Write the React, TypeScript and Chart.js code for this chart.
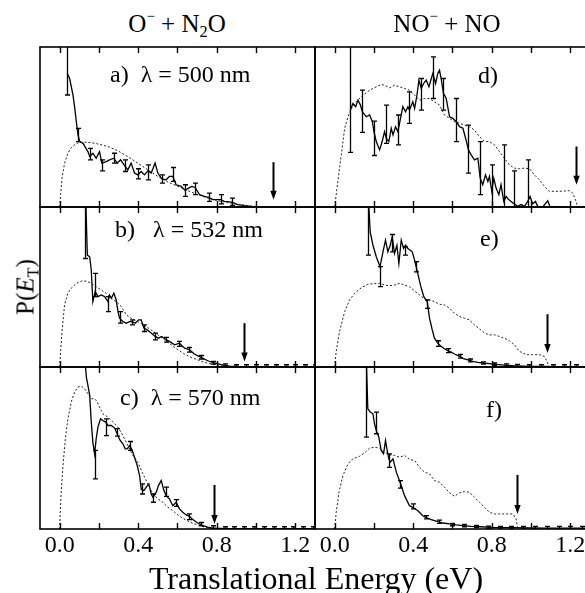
import React, { useEffect, useRef } from "react";
import { Chart, registerables } from "chart.js";
Chart.register(...registerables);

type Pt = [number, number];
type Err = [number, number, number];
type Arrow = [number, number, number];

const X_MIN = -0.1;
const X_MAX = 1.3;
const MINOR_TICKS = [0, 0.2, 0.4, 0.6, 0.8, 1.0, 1.2];
const TICK_LABELS = [0, 0.4, 0.8, 1.2];

// ---------- panel a: O- + N2O, 500 nm ----------
const aSolid: Pt[] = [
  [0.039, 0.834], [0.051, 0.803], [0.068, 0.699], [0.076, 0.627], [0.085, 0.533], [0.093, 0.454],
  [0.102, 0.409], [0.119, 0.398], [0.144, 0.346], [0.153, 0.315], [0.169, 0.336], [0.186, 0.305],
  [0.203, 0.346], [0.215, 0.274], [0.237, 0.284], [0.254, 0.295], [0.276, 0.305], [0.293, 0.274],
  [0.31, 0.295], [0.331, 0.259], [0.347, 0.232], [0.364, 0.274], [0.381, 0.212], [0.398, 0.201],
  [0.415, 0.222], [0.432, 0.201], [0.449, 0.226], [0.466, 0.212], [0.486, 0.274], [0.5, 0.212],
  [0.52, 0.176], [0.542, 0.17], [0.559, 0.191], [0.576, 0.191], [0.593, 0.139], [0.619, 0.129],
  [0.639, 0.104], [0.656, 0.118], [0.673, 0.129], [0.69, 0.122], [0.712, 0.077], [0.737, 0.066],
  [0.758, 0.06], [0.78, 0.046], [0.819, 0.046], [0.839, 0.035], [0.876, 0.031], [0.907, 0.015],
  [0.941, 0.008], [0.975, 0.004], [1.0, 0.002],
];
const aDashed: Pt[] = [
  [0, 0], [0.005, 0.077], [0.012, 0.18], [0.025, 0.274], [0.042, 0.336], [0.059, 0.371], [0.08, 0.392],
  [0.102, 0.405], [0.127, 0.405], [0.161, 0.402], [0.203, 0.392], [0.246, 0.378], [0.297, 0.351],
  [0.347, 0.315], [0.398, 0.274], [0.449, 0.232], [0.5, 0.191], [0.551, 0.156], [0.602, 0.129],
  [0.653, 0.102], [0.703, 0.077], [0.754, 0.056], [0.805, 0.039], [0.856, 0.027], [0.907, 0.017],
  [0.975, 0.006], [1.059, 0],
];
const aErr: Err[] = [
  [0.039, 0.7, 1.15], [0.093, 0.409, 0.492], [0.153, 0.295, 0.367], [0.215, 0.226, 0.295],
  [0.276, 0.274, 0.336], [0.331, 0.222, 0.295], [0.398, 0.176, 0.239], [0.449, 0.17, 0.263],
  [0.52, 0.149, 0.201], [0.576, 0.16, 0.247], [0.639, 0.066, 0.139], [0.69, 0.077, 0.149],
  [0.758, 0.035, 0.087], [0.819, 0.019, 0.077], [0.876, 0.01, 0.056],
];
const aArrow: Arrow = [1.085, 0.28, 0.046];

// ---------- panel b: O- + N2O, 532 nm ----------
const bSolid: Pt[] = [
  [0.127, 1.3], [0.141, 0.699], [0.153, 0.689], [0.161, 0.606], [0.169, 0.409], [0.181, 0.471],
  [0.195, 0.44], [0.212, 0.45], [0.229, 0.44], [0.246, 0.409], [0.254, 0.45], [0.263, 0.429],
  [0.276, 0.461], [0.288, 0.419], [0.297, 0.346], [0.305, 0.305], [0.322, 0.284], [0.339, 0.274],
  [0.356, 0.284], [0.368, 0.284], [0.385, 0.274], [0.402, 0.295], [0.415, 0.295], [0.429, 0.243],
  [0.446, 0.232], [0.466, 0.212], [0.486, 0.191], [0.503, 0.18], [0.52, 0.191], [0.542, 0.17],
  [0.559, 0.16], [0.585, 0.139], [0.61, 0.149], [0.636, 0.118], [0.661, 0.108], [0.686, 0.081],
  [0.72, 0.06], [0.754, 0.039], [0.788, 0.025], [0.822, 0.015], [0.864, 0.006], [0.907, 0.003],
  [0.949, 0.002], [1.0, 0.002], [1.1, 0.002], [1.2, 0.002], [1.3, 0.002],
];
const bDashed: Pt[] = [
  [0, 0], [0.005, 0.098], [0.012, 0.222], [0.025, 0.388], [0.042, 0.461], [0.059, 0.492], [0.085, 0.523],
  [0.11, 0.537], [0.136, 0.537], [0.161, 0.523], [0.186, 0.502], [0.212, 0.481], [0.237, 0.461],
  [0.263, 0.429], [0.288, 0.409], [0.314, 0.378], [0.339, 0.326], [0.364, 0.305], [0.398, 0.284],
  [0.432, 0.259], [0.466, 0.232], [0.5, 0.201], [0.534, 0.17], [0.568, 0.139], [0.602, 0.108],
  [0.636, 0.081], [0.669, 0.06], [0.703, 0.044], [0.737, 0.029], [0.771, 0.019], [0.822, 0.008],
  [0.873, 0.002], [0.924, 0],
];
const bErr: Err[] = [
  [0.127, 0.678, 1.3], [0.181, 0.44, 0.585], [0.246, 0.346, 0.44], [0.305, 0.274, 0.346],
  [0.368, 0.263, 0.295], [0.429, 0.222, 0.263], [0.486, 0.17, 0.212], [0.542, 0.155, 0.185],
  [0.61, 0.129, 0.16], [0.661, 0.093, 0.122], [0.72, 0.05, 0.072], [0.78, 0.018, 0.035],
  [0.84, 0.005, 0.02], [0.9, 0, 0.014], [0.95, 0, 0.014], [1.0, 0, 0.014], [1.05, 0, 0.014],
  [1.1, 0, 0.014], [1.15, 0, 0.014], [1.2, 0, 0.014], [1.25, 0, 0.014], [1.3, 0, 0.014],
];
const bArrow: Arrow = [0.936, 0.274, 0.035];

// ---------- panel c: O- + N2O, 570 nm ----------
const cSolid: Pt[] = [
  [0.127, 1.07], [0.136, 0.938], [0.144, 0.887], [0.153, 0.825], [0.161, 0.66], [0.169, 0.536],
  [0.178, 0.464], [0.186, 0.557], [0.195, 0.629], [0.208, 0.68], [0.22, 0.67], [0.234, 0.66],
  [0.246, 0.639], [0.263, 0.639], [0.28, 0.623], [0.293, 0.588], [0.305, 0.553], [0.322, 0.526],
  [0.334, 0.495], [0.344, 0.495], [0.356, 0.515], [0.368, 0.491], [0.381, 0.443], [0.395, 0.392],
  [0.407, 0.33], [0.415, 0.247], [0.429, 0.237], [0.441, 0.258], [0.454, 0.278], [0.466, 0.216],
  [0.475, 0.196], [0.492, 0.227], [0.503, 0.268], [0.517, 0.299], [0.531, 0.237], [0.542, 0.206],
  [0.559, 0.186], [0.576, 0.144], [0.593, 0.165], [0.61, 0.124], [0.627, 0.103], [0.644, 0.087],
  [0.661, 0.078], [0.678, 0.058], [0.703, 0.037], [0.729, 0.021], [0.754, 0.012], [0.78, 0.006],
  [0.814, 0.004], [0.864, 0.002], [1.0, 0.002], [1.3, 0.002],
];
const cDashed: Pt[] = [
  [0, 0], [0.003, 0.103], [0.008, 0.227], [0.017, 0.392], [0.029, 0.557], [0.042, 0.68], [0.059, 0.784],
  [0.076, 0.845], [0.093, 0.876], [0.11, 0.882], [0.127, 0.866], [0.144, 0.835], [0.161, 0.804],
  [0.178, 0.804], [0.192, 0.784], [0.203, 0.753], [0.22, 0.711], [0.246, 0.691], [0.271, 0.66],
  [0.297, 0.629], [0.322, 0.577], [0.347, 0.515], [0.373, 0.454], [0.398, 0.412], [0.424, 0.34],
  [0.449, 0.278], [0.475, 0.216], [0.5, 0.186], [0.525, 0.165], [0.551, 0.134], [0.576, 0.113],
  [0.602, 0.087], [0.627, 0.066], [0.653, 0.049], [0.678, 0.035], [0.703, 0.025], [0.737, 0.012],
  [0.771, 0.004], [0.797, 0],
];
const cErr: Err[] = [
  [0.178, 0.309, 0.485], [0.234, 0.577, 0.68], [0.293, 0.573, 0.619], [0.356, 0.485, 0.54],
  [0.419, 0.216, 0.278], [0.475, 0.165, 0.216], [0.542, 0.202, 0.258], [0.593, 0.14, 0.181],
  [0.661, 0.058, 0.093], [0.72, 0.02, 0.04], [0.78, 0.003, 0.02], [0.84, 0, 0.014], [0.89, 0, 0.014],
  [0.94, 0, 0.014], [0.99, 0, 0.014], [1.04, 0, 0.014], [1.09, 0, 0.014], [1.14, 0, 0.014],
  [1.19, 0, 0.014], [1.24, 0, 0.014], [1.29, 0, 0.014],
];
const cArrow: Arrow = [0.788, 0.272, 0.031];

// ---------- panel d: NO- + NO, 500 nm ----------
const dSolid: Pt[] = [
  [0.08, 0.606], [0.093, 0.647], [0.107, 0.627], [0.119, 0.668], [0.131, 0.637], [0.141, 0.595],
  [0.161, 0.564], [0.178, 0.575], [0.192, 0.533], [0.2, 0.471], [0.212, 0.409], [0.229, 0.357],
  [0.242, 0.409], [0.254, 0.471], [0.263, 0.429], [0.276, 0.409], [0.288, 0.492], [0.297, 0.45],
  [0.31, 0.502], [0.322, 0.471], [0.334, 0.544], [0.347, 0.627], [0.361, 0.595], [0.373, 0.627],
  [0.381, 0.606], [0.398, 0.658], [0.407, 0.616], [0.419, 0.699], [0.429, 0.793], [0.441, 0.741],
  [0.453, 0.772], [0.466, 0.793], [0.48, 0.751], [0.492, 0.803], [0.5, 0.834], [0.514, 0.772],
  [0.525, 0.834], [0.534, 0.855], [0.542, 0.803], [0.554, 0.71], [0.568, 0.678], [0.585, 0.564],
  [0.602, 0.554], [0.619, 0.533], [0.636, 0.502], [0.653, 0.492], [0.669, 0.419], [0.681, 0.357],
  [0.695, 0.326], [0.712, 0.295], [0.729, 0.305], [0.741, 0.18], [0.754, 0.139], [0.768, 0.201],
  [0.78, 0.16], [0.788, 0.191], [0.8, 0.098], [0.81, 0.18], [0.822, 0.118], [0.836, 0.077],
  [0.847, 0.139], [0.861, 0.035], [0.873, 0.066], [0.886, 0.046], [0.898, 0.035], [0.915, 0.019],
  [0.932, 0.004], [0.949, 0.015], [0.966, 0.004], [0.983, 0.035], [0.995, 0.066], [1.008, 0.019],
  [1.022, 0.035], [1.034, 0.004], [1.059, 0], [1.085, 0.039], [1.097, 0], [1.144, 0],
];
const dDashed: Pt[] = [
  [0, 0], [0.012, 0.118], [0.034, 0.326], [0.051, 0.492], [0.068, 0.564], [0.085, 0.616], [0.11, 0.658],
  [0.144, 0.699], [0.178, 0.73], [0.212, 0.751], [0.237, 0.766], [0.254, 0.761], [0.28, 0.745],
  [0.305, 0.761], [0.331, 0.751], [0.356, 0.741], [0.381, 0.73], [0.407, 0.699], [0.432, 0.668],
  [0.458, 0.678], [0.483, 0.678], [0.508, 0.658], [0.534, 0.637], [0.559, 0.575], [0.585, 0.554],
  [0.61, 0.533], [0.636, 0.523], [0.661, 0.512], [0.686, 0.502], [0.712, 0.481], [0.737, 0.44],
  [0.763, 0.409], [0.788, 0.409], [0.814, 0.388], [0.839, 0.346], [0.864, 0.305], [0.89, 0.263],
  [0.915, 0.243], [0.941, 0.239], [0.966, 0.243], [0.992, 0.239], [1.017, 0.201], [1.042, 0.17],
  [1.068, 0.129], [1.093, 0.098], [1.144, 0.098], [1.195, 0.102], [1.212, 0.087], [1.229, 0.035],
  [1.237, 0],
];
const dErr: Err[] = [
  [0.08, 0.342, 1.05], [0.141, 0.467, 0.73], [0.2, 0.322, 0.537], [0.263, 0.398, 0.637],
  [0.322, 0.388, 0.575], [0.381, 0.523, 0.72], [0.441, 0.606, 0.803], [0.5, 0.678, 0.938],
  [0.554, 0.606, 0.803], [0.619, 0.409, 0.678], [0.681, 0.212, 0.512], [0.741, 0.077, 0.409],
  [0.8, 0, 0.263], [0.861, 0, 0.388], [0.915, 0, 0.226], [0.983, 0, 0.295],
];
const dArrow: Arrow = [1.229, 0.378, 0.139];

// ---------- panel e: NO- + NO, 532 nm ----------
const eSolid: Pt[] = [
  [0.17, 1.1], [0.181, 0.844], [0.195, 0.761], [0.212, 0.689], [0.231, 0.627], [0.246, 0.72],
  [0.259, 0.793], [0.271, 0.72], [0.283, 0.761], [0.293, 0.813], [0.305, 0.71], [0.317, 0.761],
  [0.327, 0.647], [0.339, 0.793], [0.351, 0.741], [0.361, 0.761], [0.373, 0.741], [0.385, 0.73],
  [0.395, 0.72], [0.407, 0.668], [0.415, 0.627], [0.429, 0.554], [0.441, 0.492], [0.454, 0.44],
  [0.471, 0.409], [0.483, 0.305], [0.497, 0.232], [0.508, 0.18], [0.525, 0.149], [0.542, 0.129],
  [0.559, 0.114], [0.576, 0.102], [0.593, 0.093], [0.61, 0.081], [0.636, 0.066], [0.656, 0.052],
  [0.678, 0.044], [0.703, 0.035], [0.729, 0.029], [0.754, 0.025], [0.788, 0.021], [0.822, 0.017],
  [0.864, 0.012], [0.907, 0.008], [0.958, 0.006], [1.008, 0.004], [1.076, 0.004], [1.144, 0.002],
  [1.212, 0.002], [1.3, 0.002],
];
const eDashed: Pt[] = [
  [0, 0], [0.008, 0.098], [0.025, 0.222], [0.051, 0.346], [0.076, 0.419], [0.102, 0.461], [0.136, 0.496],
  [0.169, 0.517], [0.203, 0.521], [0.229, 0.523], [0.254, 0.512], [0.28, 0.508], [0.305, 0.512],
  [0.331, 0.523], [0.356, 0.512], [0.381, 0.502], [0.407, 0.475], [0.432, 0.45], [0.458, 0.425],
  [0.483, 0.419], [0.508, 0.409], [0.534, 0.392], [0.559, 0.388], [0.585, 0.367], [0.61, 0.336],
  [0.636, 0.315], [0.661, 0.305], [0.686, 0.295], [0.712, 0.263], [0.737, 0.239], [0.763, 0.212],
  [0.788, 0.201], [0.814, 0.201], [0.839, 0.191], [0.864, 0.18], [0.89, 0.164], [0.915, 0.139],
  [0.941, 0.098], [0.975, 0.077], [1.008, 0.077], [1.042, 0.077], [1.068, 0.066], [1.085, 0.025],
  [1.09, 0],
];
const eErr: Err[] = [
  [0.171, 0.699, 1.1], [0.231, 0.502, 0.627], [0.293, 0.72, 0.828], [0.356, 0.699, 0.751],
  [0.415, 0.595, 0.658], [0.471, 0.367, 0.419], [0.525, 0.129, 0.164], [0.576, 0.09, 0.115],
  [0.636, 0.055, 0.078], [0.69, 0.032, 0.05], [0.754, 0.018, 0.032], [0.81, 0.01, 0.025],
  [0.87, 0.004, 0.02], [0.93, 0, 0.016], [0.99, 0, 0.014], [1.05, 0, 0.014], [1.11, 0, 0.014],
  [1.17, 0, 0.014], [1.23, 0, 0.014], [1.29, 0, 0.014],
];
const eArrow: Arrow = [1.081, 0.33, 0.087];

// ---------- panel f: NO- + NO, 570 nm ----------
const fSolid: Pt[] = [
  [0.161, 1.05], [0.169, 0.742], [0.181, 0.722], [0.195, 0.711], [0.203, 0.649], [0.212, 0.608],
  [0.225, 0.567], [0.237, 0.485], [0.249, 0.464], [0.259, 0.546], [0.266, 0.495], [0.276, 0.433],
  [0.283, 0.412], [0.297, 0.433], [0.314, 0.351], [0.334, 0.285], [0.356, 0.206], [0.381, 0.144],
  [0.398, 0.134], [0.424, 0.113], [0.449, 0.082], [0.466, 0.07], [0.492, 0.058], [0.525, 0.045],
  [0.551, 0.037], [0.585, 0.031], [0.619, 0.025], [0.653, 0.021], [0.695, 0.016], [0.737, 0.014],
  [0.805, 0.01], [0.907, 0.008], [1.076, 0.006], [1.3, 0.006],
];
const fDashed: Pt[] = [
  [0, 0], [0.008, 0.103], [0.022, 0.227], [0.042, 0.33], [0.068, 0.402], [0.093, 0.433], [0.127, 0.449],
  [0.153, 0.47], [0.178, 0.499], [0.203, 0.505], [0.229, 0.499], [0.254, 0.474], [0.28, 0.458],
  [0.305, 0.454], [0.331, 0.443], [0.356, 0.454], [0.381, 0.429], [0.407, 0.423], [0.432, 0.381],
  [0.458, 0.351], [0.483, 0.34], [0.508, 0.299], [0.534, 0.289], [0.559, 0.258], [0.585, 0.223],
  [0.61, 0.202], [0.636, 0.223], [0.661, 0.231], [0.686, 0.227], [0.712, 0.196], [0.737, 0.165],
  [0.763, 0.134], [0.788, 0.103], [0.814, 0.093], [0.839, 0.093], [0.873, 0.093], [0.907, 0.093],
  [0.924, 0.062], [0.932, 0],
];
const fErr: Err[] = [
  [0.161, 0.567, 1.1], [0.212, 0.588, 0.722], [0.276, 0.381, 0.464], [0.334, 0.252, 0.299],
  [0.398, 0.124, 0.155], [0.466, 0.062, 0.082], [0.53, 0.035, 0.055], [0.6, 0.02, 0.035],
  [0.66, 0.014, 0.028], [0.72, 0.008, 0.022], [0.78, 0.004, 0.018], [0.84, 0, 0.016],
  [0.9, 0, 0.016], [0.96, 0, 0.016], [1.02, 0, 0.016], [1.08, 0, 0.016], [1.14, 0, 0.016],
  [1.2, 0, 0.016], [1.26, 0, 0.016],
];
const fArrow: Arrow = [0.929, 0.334, 0.093];

const SERIF = '"Liberation Serif", "Times New Roman", Times, serif';

type PanelProps = {
  left: number; top: number; width: number; height: number;
  solid: Pt[]; dashed: Pt[]; errs: Err[]; arrow: Arrow; bottom: boolean;
};

const PAD = 4;
const AXIS_H = 32;

function Panel({ left, top, width, height, solid, dashed, errs, arrow, bottom }: PanelProps) {
  const ref = useRef<HTMLCanvasElement>(null);
  useEffect(() => {
    if (!ref.current) return;
    const overlay = {
      id: "overlay",
      afterDatasetsDraw(chart: any) {
        const { ctx, chartArea: ca, scales } = chart;
        const xs = scales.x;
        const ys = scales.y;
        ctx.save();
        ctx.beginPath();
        ctx.rect(ca.left, ca.top, ca.right - ca.left, ca.bottom - ca.top);
        ctx.clip();
        ctx.strokeStyle = "#000";
        ctx.lineWidth = 1.3;
        ctx.beginPath();
        for (const [x, lo, hi] of errs) {
          const px = Math.round(xs.getPixelForValue(x)) + 0.5;
          const p1 = ys.getPixelForValue(lo);
          const p2 = ys.getPixelForValue(hi);
          ctx.moveTo(px, p1); ctx.lineTo(px, p2);
          ctx.moveTo(px - 2.5, p1); ctx.lineTo(px + 2.5, p1);
          ctx.moveTo(px - 2.5, p2); ctx.lineTo(px + 2.5, p2);
        }
        ctx.stroke();
        // arrow
        const [ax, at, ab] = arrow;
        const apx = Math.round(xs.getPixelForValue(ax)) + 0.5;
        const aTop = ys.getPixelForValue(at);
        const aBot = ys.getPixelForValue(ab);
        ctx.lineWidth = 2;
        ctx.beginPath();
        ctx.moveTo(apx, aTop); ctx.lineTo(apx, aBot - 6);
        ctx.stroke();
        ctx.fillStyle = "#000";
        ctx.beginPath();
        ctx.moveTo(apx - 3.2, aBot - 9);
        ctx.lineTo(apx + 3.2, aBot - 9);
        ctx.lineTo(apx, aBot);
        ctx.closePath();
        ctx.fill();
        ctx.restore();

        // frame + inward ticks
        ctx.save();
        ctx.strokeStyle = "#000";
        ctx.lineWidth = 1.6;
        ctx.strokeRect(ca.left, ca.top, ca.right - ca.left, ca.bottom - ca.top);
        ctx.lineWidth = 1.4;
        ctx.beginPath();
        for (const t of MINOR_TICKS) {
          const px = Math.round(xs.getPixelForValue(t)) + 0.5;
          ctx.moveTo(px, ca.top); ctx.lineTo(px, ca.top + 6);
          ctx.moveTo(px, ca.bottom); ctx.lineTo(px, ca.bottom - 6);
        }
        ctx.stroke();
        ctx.restore();
      },
    };

    const chart = new Chart(ref.current, {
      type: "scatter",
      data: {
        datasets: [
          {
            data: dashed.map(([x, y]) => ({ x, y })),
            showLine: true,
            borderColor: "#222",
            borderWidth: 1,
            borderDash: [2, 2],
            pointRadius: 0,
            clip: 0,
          } as any,
          {
            data: solid.map(([x, y]) => ({ x, y })),
            showLine: true,
            borderColor: "#000",
            borderWidth: 1.3,
            pointRadius: 0,
            clip: 0,
          } as any,
        ],
      },
      options: {
        responsive: false,
        maintainAspectRatio: false,
        animation: false,
        devicePixelRatio: 1,
        events: [],
        layout: { padding: { left: PAD, right: PAD, top: PAD, bottom: bottom ? 0 : PAD } },
        plugins: { legend: { display: false }, tooltip: { enabled: false } },
        scales: {
          x: {
            type: "linear",
            min: X_MIN,
            max: X_MAX,
            display: bottom,
            grid: { display: false, drawTicks: false },
            border: { display: false },
            ticks: {
              color: "#000",
              font: { family: SERIF, size: 24 },
              padding: 2,
              autoSkip: false,
              maxRotation: 0,
              callback: (v: any) => Number(v).toFixed(1),
            },
            afterBuildTicks: (s: any) => {
              s.ticks = TICK_LABELS.map((v) => ({ value: v }));
            },
            afterFit: (s: any) => {
              if (!bottom) return;
              s.height = AXIS_H;
              s.paddingLeft = 0;
              s.paddingRight = 0;
            },
          },
          y: { type: "linear", min: 0, max: 1, display: false },
        },
      } as any,
      plugins: [overlay],
    });
    return () => chart.destroy();
  }, []);

  const cw = width + 2 * PAD;
  const ch = height + PAD + (bottom ? AXIS_H : PAD);
  return (
    <canvas
      ref={ref}
      width={cw}
      height={ch}
      style={{ position: "absolute", left: left - PAD, top: top - PAD, width: cw, height: ch }}
    />
  );
}

const textBase: React.CSSProperties = {
  position: "absolute",
  whiteSpace: "pre",
  lineHeight: 1,
  fontFamily: SERIF,
  color: "#000",
};

export default function App() {
  const L1 = 40, L2 = 315, W = 275;
  const rows = [
    { top: 47, h: 160 },
    { top: 207, h: 160 },
    { top: 367, h: 162 },
  ];
  const sup = (s: string) => (
    <span style={{ fontSize: "0.6em", position: "relative", top: "-0.75em" }}>{s}</span>
  );
  const sub = (s: string) => (
    <span style={{ fontSize: "0.65em", position: "relative", top: "0.3em" }}>{s}</span>
  );
  return (
    <div style={{ position: "absolute", left: 0, top: 0, width: 585, height: 593, overflow: "hidden", background: "#fff" }}>
      <Panel left={L1} top={rows[0].top} width={W} height={rows[0].h} solid={aSolid} dashed={aDashed} errs={aErr} arrow={aArrow} bottom={false} />
      <Panel left={L1} top={rows[1].top} width={W} height={rows[1].h} solid={bSolid} dashed={bDashed} errs={bErr} arrow={bArrow} bottom={false} />
      <Panel left={L1} top={rows[2].top} width={W} height={rows[2].h} solid={cSolid} dashed={cDashed} errs={cErr} arrow={cArrow} bottom={true} />
      <Panel left={L2} top={rows[0].top} width={W} height={rows[0].h} solid={dSolid} dashed={dDashed} errs={dErr} arrow={dArrow} bottom={false} />
      <Panel left={L2} top={rows[1].top} width={W} height={rows[1].h} solid={eSolid} dashed={eDashed} errs={eErr} arrow={eArrow} bottom={false} />
      <Panel left={L2} top={rows[2].top} width={W} height={rows[2].h} solid={fSolid} dashed={fDashed} errs={fErr} arrow={fArrow} bottom={true} />

      <div style={{ ...textBase, fontSize: 25, left: 177, top: 23, transform: "translate(-50%,-50%)" }}>
        O{sup("−")} + N{sub("2")}O
      </div>
      <div style={{ ...textBase, fontSize: 25, left: 447, top: 23, transform: "translate(-50%,-50%)" }}>
        NO{sup("−")} + NO
      </div>

      <div style={{ ...textBase, fontSize: 24, left: 110, top: 74 - 12 }}>a)  λ = 500 nm</div>
      <div style={{ ...textBase, fontSize: 24, left: 115, top: 229 - 12 }}>b)   λ = 532 nm</div>
      <div style={{ ...textBase, fontSize: 24, left: 120, top: 397 - 12 }}>c)  λ = 570 nm</div>
      <div style={{ ...textBase, fontSize: 24, left: 478, top: 75 - 12 }}>d)</div>
      <div style={{ ...textBase, fontSize: 24, left: 480, top: 238 - 12 }}>e)</div>
      <div style={{ ...textBase, fontSize: 24, left: 486, top: 409 - 12 }}>f)</div>

      <div style={{ ...textBase, fontSize: 25, left: 25, top: 287, transform: "translate(-50%,-50%) rotate(-90deg)" }}>
        P(<i>E</i>{sub("T")})
      </div>

      <div style={{ ...textBase, fontSize: 32, left: 316, top: 578, transform: "translate(-50%,-50%)" }}>
        Translational Energy (eV)
      </div>
    </div>
  );
}
